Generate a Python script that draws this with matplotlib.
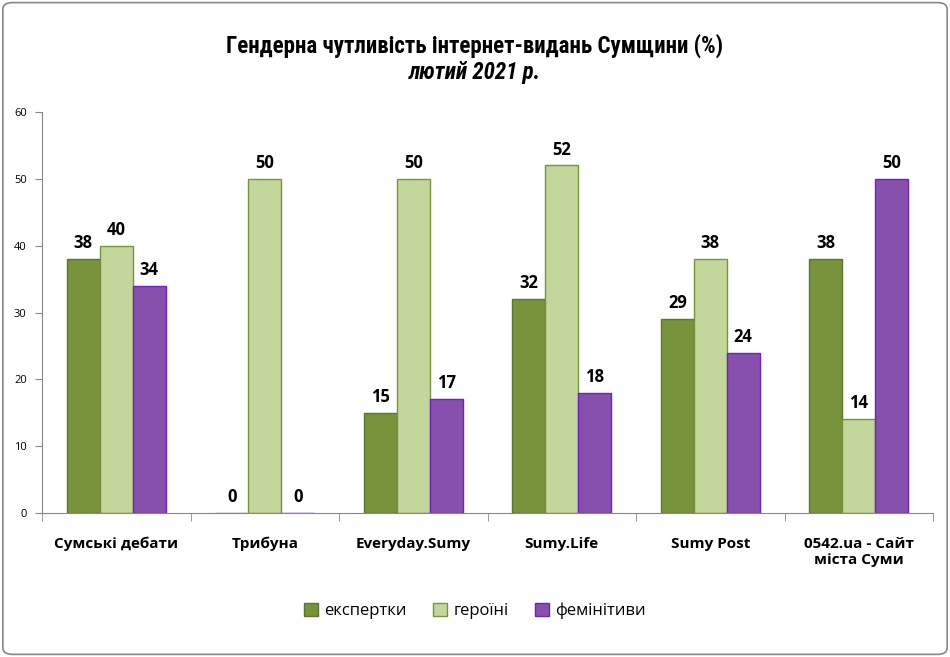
import matplotlib.pyplot as plt
import numpy as np
from matplotlib.patches import FancyBboxPatch

# gender sensitivity of Sumy online media, Feb 2021
sites = ["Сумські дебати", "Трибуна", "Everyday.Sumy", "Sumy.Life",
         "Sumy Post", "0542.ua - Сайт\nміста Суми"]
experts = [38, 0, 15, 32, 29, 38]
heroines = [40, 50, 50, 52, 38, 14]
feminitives = [34, 0, 17, 18, 24, 50]
series_names = ["експертки", "героїні", "фемінітиви"]
y_ticks = [0, 10, 20, 30, 40, 50, 60]

plt.rcParams['font.family'] = ['Open Sans', 'DejaVu Sans']

fig = plt.figure(figsize=(9.5, 6.57), dpi=100)
ax = fig.add_axes([0.0442, 0.2192, 0.938, 0.6103])

x = np.arange(len(sites))
w = 0.222
fills = ['#77933C', '#C3D69B', '#8750AD']
edges = ['#5E7530', '#77933C', '#7020C8']
for i, (vals, name) in enumerate(zip([experts, heroines, feminitives], series_names)):
    bars = ax.bar(x + (i - 1) * w, vals, w, color=fills[i], edgecolor=edges[i],
                  linewidth=1, label=name)
    ax.bar_label(bars, padding=5, fontsize=12, fontweight='bold')

ax.set_xlim(-0.5, len(sites) - 0.5)
ax.set_ylim(0, 60)
ax.set_yticks(y_ticks)
ax.tick_params(axis='y', labelsize=8, length=5, color='#868686', pad=6)
ax.set_xticks(x)
ax.set_xticklabels(sites, fontsize=11, fontweight='bold')
ax.tick_params(axis='x', which='major', length=0, pad=17)
ax.set_xticks(np.arange(len(sites) + 1) - 0.5, minor=True)
ax.tick_params(axis='x', which='minor', length=6, color='#868686')
for s in ['top', 'right']:
    ax.spines[s].set_visible(False)
for s in ['left', 'bottom']:
    ax.spines[s].set_color('#868686')

title_font = ['Roboto Condensed', 'Roboto', 'DejaVu Sans']
fig.text(0.5, 0.931, "Гендерна чутливість інтернет-видань Сумщини (%)",
         ha='center', va='center', fontsize=16.5, fontweight='bold', family=title_font)
fig.text(0.5, 0.889, "лютий 2021 р.", ha='center', va='center', fontsize=16.5,
         fontweight='bold', style='italic', family=title_font)

fig.legend(loc='center', bbox_to_anchor=(0.5, 0.07), ncol=3, frameon=False,
           fontsize=12, handlelength=0.8, handleheight=0.8, columnspacing=1.6,
           handletextpad=0.4)

border = FancyBboxPatch((0.003, 0.004), 0.994, 0.992, boxstyle="round,pad=0,rounding_size=0.01",
                        transform=fig.transFigure, fill=False, edgecolor='#868686', linewidth=1.2)
fig.patches.append(border)

fig.savefig("out.png", dpi=100)
